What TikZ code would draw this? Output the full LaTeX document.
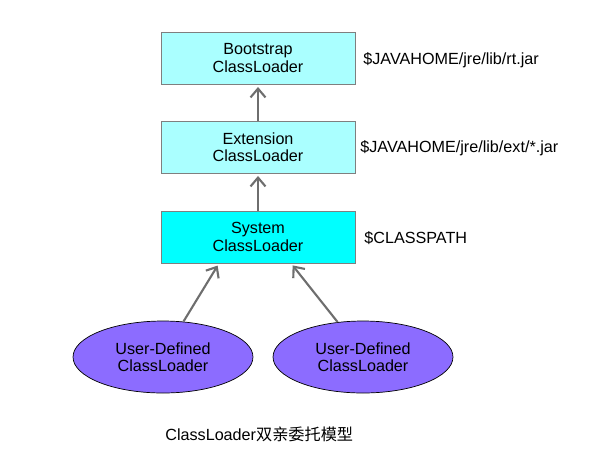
\documentclass[tikz,border=0pt]{standalone}
\usepackage{fontspec}
\setmainfont{Liberation Sans}
\newfontfamily\cjk{Noto Sans CJK SC}
\usepackage{xcolor}
\definecolor{cyan-light}{HTML}{AAFFFF}
\definecolor{cyan-full}{HTML}{00FFFF}
\definecolor{box-border}{HTML}{7F7F7F}
\definecolor{user-purple}{HTML}{8C6CFF}
\definecolor{arrw-gray}{HTML}{6E6E6E}
\usetikzlibrary{shapes.geometric,arrows.meta}
\newcommand{\figfont}{\fontsize{9.2pt}{10pt}\selectfont}
\tikzset{
  % --- LOADER BOXES ---
  loader-light/.style={
    rectangle,
    fill=cyan-light,
    draw=box-border,
    text=black,
    font=\figfont,
    minimum width=3.88cm,
    minimum height=1.04cm,
    inner sep=0pt,
    align=center
  },
  loader-full/.style={
    loader-light,
    fill=cyan-full
  },
  user-loader/.style={
    ellipse,
    fill=user-purple,
    draw=black,
    text=black,
    font=\figfont,
    minimum width=3.6cm,
    minimum height=1.44cm,
    inner sep=0pt,
    align=center
  },
  % --- TEXTS ---
  path-label/.style={
    font=\figfont,
    anchor=west,
    inner sep=0pt
  },
  caption/.style={
    font=\figfont,
    anchor=west,
    inner sep=0pt
  },
  % --- ARROWS ---
  arrw/.style={
    draw=arrw-gray,
    line width=1.2pt,
    shorten >=1.5pt,
    -{Straight Barb[length=5pt,width=8.5pt]}
  },
}

\begin{document}
\begin{tikzpicture}[x=0.02cm,y=-0.02cm]
  \useasboundingbox (0,0) rectangle (608,471);

  % --- parent loaders
  \node[loader-light] (boot) at (258,58)  {Bootstrap\\ClassLoader};
  \node[loader-light] (ext)  at (258,147) {Extension\\ClassLoader};
  \node[loader-full]  (sys)  at (258,237) {System\\ClassLoader};
  % --- user loaders
  \node[user-loader] (userl) at (163,357) {User-Defined\\ClassLoader};
  \node[user-loader] (userr) at (363,357) {User-Defined\\ClassLoader};
  % --- search paths
  \node[path-label] (bootpath) at (363,60)  {\$JAVAHOME/jre/lib/rt.jar};
  \node[path-label] (extpath)  at (360,148) {\$JAVAHOME/jre/lib/ext/*.jar};
  \node[path-label] (syspath)  at (364,238) {\$CLASSPATH};
  % --- delegation arrows
  \draw[arrw] (ext.north) -- (boot.south);
  \draw[arrw] (sys.north) -- (ext.south);
  \draw[arrw] (userl.60)  -- ([xshift=-0.78cm]sys.south);
  \draw[arrw] (userr.126) -- ([xshift=0.66cm]sys.south);
  % --- caption
  \node[caption] (title) at (165,434) {ClassLoader{\cjk 双亲委托模型}};

\end{tikzpicture}
\end{document}
